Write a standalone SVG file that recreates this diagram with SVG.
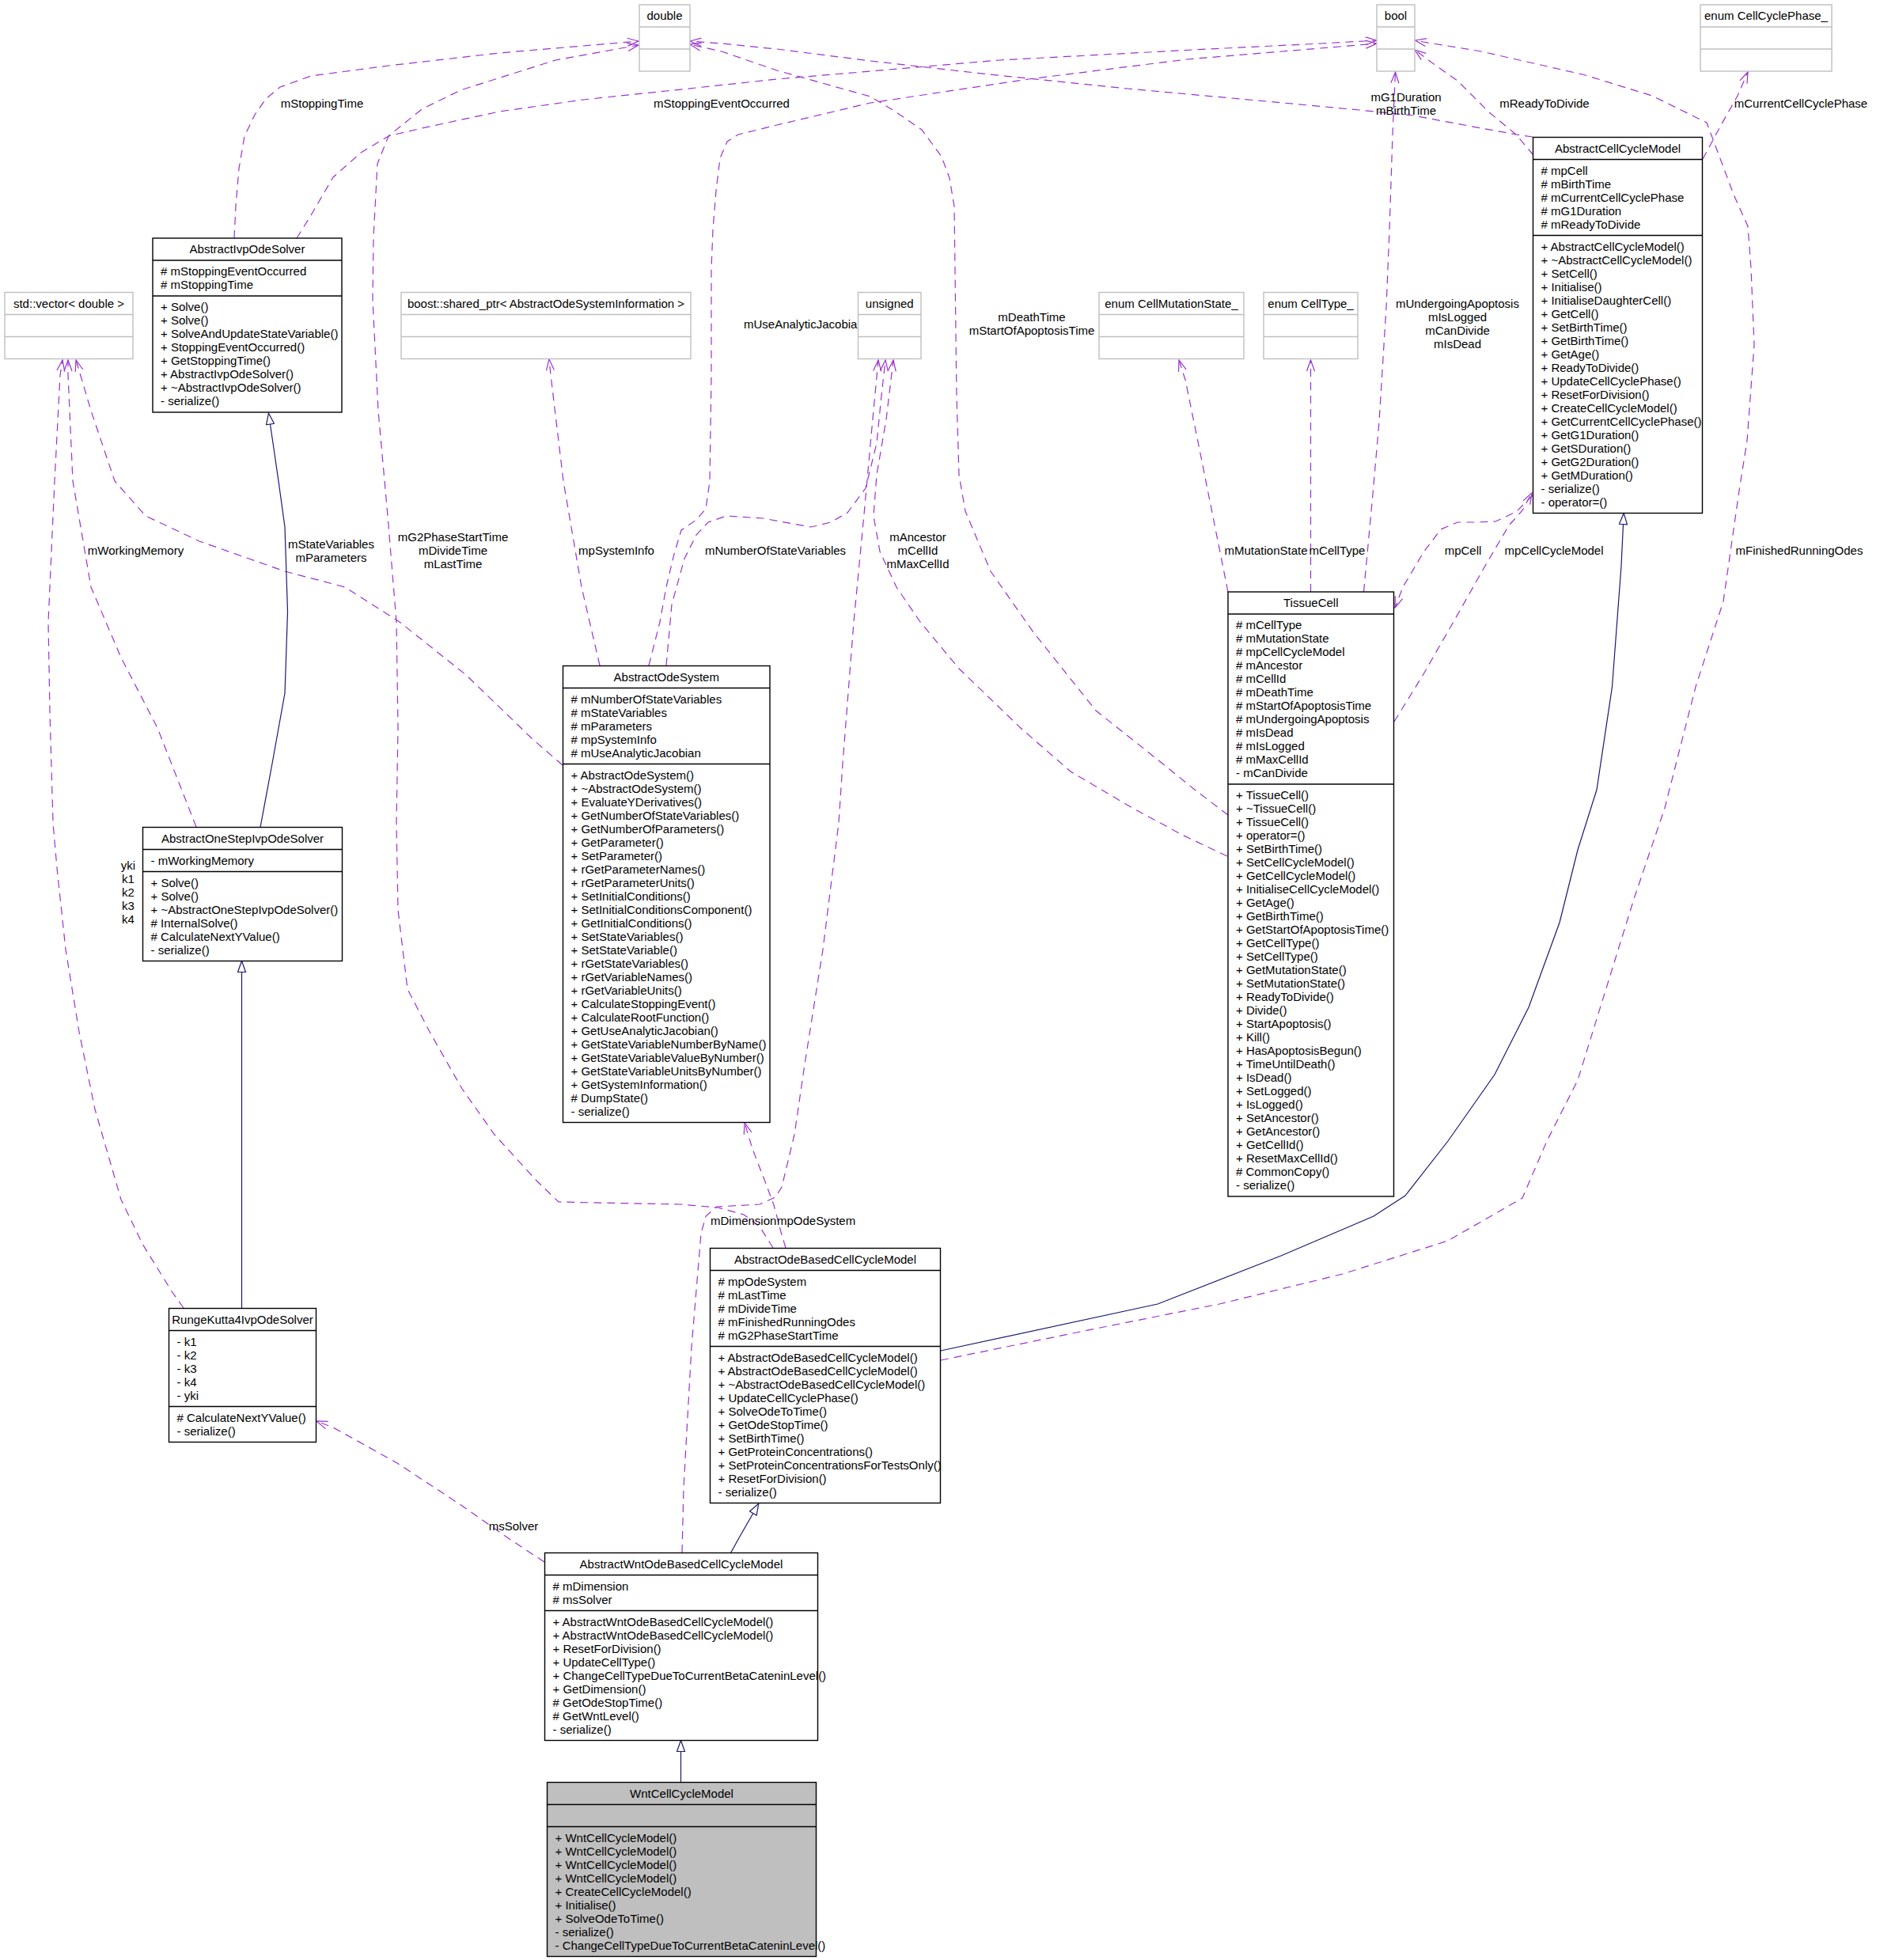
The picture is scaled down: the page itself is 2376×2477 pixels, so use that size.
<svg xmlns="http://www.w3.org/2000/svg" width="2376" height="2477" viewBox="0 0 2376 2477">
<style>
text{font-family:"Liberation Sans",Arial,Helvetica,sans-serif;font-size:15px;fill:#000}
.c{text-anchor:middle}
.box{fill:#fff;stroke:#000;stroke-width:1.4}
.ext{fill:#fff;stroke:#bfbfbf;stroke-width:1.4}
.sel{fill:#bfbfbf;stroke:#000;stroke-width:1.4}
.dv{stroke:#000;stroke-width:1.4}
.dg{stroke:#bfbfbf;stroke-width:1.4}
.use{fill:none;stroke:#9a32cd;stroke-width:1.2;stroke-dasharray:10,7;marker-end:url(#av)}
.inh{fill:none;stroke:#191970;stroke-width:1.2;marker-end:url(#tri)}
</style>
<defs>
<marker id="av" viewBox="-1 -1 16 12" refX="14" refY="5" markerWidth="16" markerHeight="12" markerUnits="userSpaceOnUse" orient="auto"><path d="M0,0 L14,5 L0,10" fill="none" stroke="#9a32cd" stroke-width="1.2"/></marker>
<marker id="tri" viewBox="-1 -1 16 12" refX="0" refY="5" markerWidth="16" markerHeight="12" markerUnits="userSpaceOnUse" orient="auto"><path d="M0,0 L14,5 L0,10 Z" fill="#fff" stroke="#191970" stroke-width="1.2"/></marker>
</defs>
<rect width="2376" height="2477" fill="#fff"/>
<g id="edges">
<path class="use" d="M296,301 L298,260 L302,213 L309,172 L322,145 L336,125 L354,110 L393,96 L491,83 L631,67 L807,52"/>
<path class="use" d="M375,301 L393,272 L421,224 L456,193 L491,172 L533,162 L631,141 L737,126 L842,115 L982,100 L1100,90 L1263,76 L1507,63 L1670,55 L1740,51"/>
<path class="use" d="M820,841 L834,786 L842,742 L852,700 L861,670 L880,657 L892,643 L897,608 L899,474 L899,340 L901,290 L905,241 L910,200 L919,179 L933,170 L982,158 L1100,130 L1300,100 L1500,75 L1740,55"/>
<path class="use" d="M1552,1030 L1510,998 L1463,960 L1385,898 L1306,799 L1252,722 L1220,646 L1212,600 L1209,500 L1208,421 L1206,261 L1200,225 L1190,198 L1165,164 L1130,140 L1100,122 L982,89 L912,65 L872,56"/>
<path class="use" d="M1937,173 L1916,170 L1872,162 L1786,146 L1718,139 L1600,128 L1425,112 L1250,94 L1100,77 L982,62 L912,55 L872,52"/>
<path class="use" d="M1938,196 L1916,170 L1881,141 L1842,102 L1808,78 L1788,63"/>
<path class="use" d="M2152,201 L2174,160 L2196,121 L2209,91"/>
<path class="use" d="M1723.5,748 L1734.5,630 L1743,533 L1752,388 L1756,291 L1760,170 L1763.5,91"/>
<path class="use" d="M1189,1719 L1385,1679 L1541,1648 L1697,1610 L1830,1568 L1924,1514 L1955,1442 L1994,1365 L2065,1136 L2104,1021 L2143,868 L2178,760 L2188,690 L2198,620 L2208,557 L2217,436 L2213,339 L2209,286 L2191.5,247 L2157,155 L2088,121 L2002,94.5 L1872,65 L1799,53 L1788.5,51"/>
<path class="use" d="M1552,748 L1535,663 L1515,563 L1498,480 L1490,455"/>
<path class="use" d="M1656.5,748 L1656.5,455"/>
<path class="use" d="M1762,912 L1799,852 L1838,784 L1877,715 L1907,664 L1924,645 L1936,623"/>
<path class="use" d="M1937,626 L1916,647 L1890,659 L1864,660 L1842,660 L1821,669 L1799,698 L1773,742 L1763,768"/>
<path class="use" d="M1551,1082 L1494,1055 L1431,1021 L1353,975 L1291,921 L1212,845 L1163,786 L1133,742 L1112,697 L1104,652 L1108,600 L1120,530 L1129,455"/>
<path class="use" d="M842,841 L849,764 L865,706 L880,676 L895,660 L918,652 L964,655 L1025,666 L1050,660 L1071,648 L1094,617 L1108,560 L1114,500 L1119,455"/>
<path class="use" d="M758,841 L735,742 L712,608 L696,474 L694,454"/>
<path class="use" d="M711,967 L673,934 L589,853 L505,786 L436,742 L360,722 L252,684 L184,652 L145,608 L115,519 L96,455"/>
<path class="use" d="M248,1045 L199,920 L153,831 L115,742 L92,608 L86,474 L86,455"/>
<path class="use" d="M232,1653 L217,1632 L180,1572 L153,1516 L120,1402 L100,1304 L83,1200 L72,1097 L67,1040 L63,900 L61,786 L69,608 L76,474 L79,455"/>
<path class="use" d="M977,1577 L960,1550 L940,1535 L907,1526 L860,1522 L706,1519 L678,1492 L625,1434 L584,1376 L543,1304 L515,1250 L503,1150 L501,1040 L503,920 L501,786 L490,652 L478,519 L471,379 L472,300 L477,207 L491,172 L533,138 L582,114 L702,76 L807,57"/>
<path class="use" d="M993,1577 L987,1557 L978,1523 L968,1496 L951,1452 L941,1419"/>
<path class="use" d="M862,1962 L864,1880 L874,1702 L886,1559 L892,1537 L906,1525 L960,1522 L980,1513 L988,1500 L1004,1434 L1017,1345 L1040,1200 L1060,1040 L1065,965 L1079,786 L1092,650 L1102,540 L1110,455"/>
<path class="use" d="M688,1974 L641,1943 L584,1903 L502,1849 L421,1804 L400,1796"/>
<path class="inh" d="M329,1045.5 L344,965 L360,876 L363.5,773 L360,666 L352,608 L341.5,536"/>
<path class="inh" d="M305.5,1653.5 L305.5,1228.5"/>
<path class="inh" d="M1189,1707 L1463,1648 L1619,1587 L1736,1537 L1776,1511 L1830,1442 L1889,1358 L1932,1273 L1971,1166 L1994,1074 L2018,998 L2037.5,868 L2049,715 L2051.5,662.5"/>
<path class="inh" d="M923.5,1962.5 L936,1940 L951.8,1912.5"/>
<path class="inh" d="M860.5,2252.5 L860.5,2213.5"/>
<text class="c" x="407" y="136">mStoppingTime</text>
<text class="c" x="912" y="136">mStoppingEventOccurred</text>
<text x="940" y="415">mUseAnalyticJacobian</text>
<text class="c" x="1777" y="128">mG1Duration</text>
<text class="c" x="1777" y="145">mBirthTime</text>
<text class="c" x="1952" y="136">mReadyToDivide</text>
<text class="c" x="2276" y="136">mCurrentCellCyclePhase</text>
<text class="c" x="1304" y="405.5">mDeathTime</text>
<text class="c" x="1304" y="422.5">mStartOfApoptosisTime</text>
<text class="c" x="1842" y="389">mUndergoingApoptosis</text>
<text class="c" x="1842" y="406">mIsLogged</text>
<text class="c" x="1842" y="423">mCanDivide</text>
<text class="c" x="1842" y="440">mIsDead</text>
<text class="c" x="1600" y="701">mMutationState</text>
<text class="c" x="1690" y="701">mCellType</text>
<text class="c" x="1849" y="701">mpCell</text>
<text class="c" x="1964" y="701">mpCellCycleModel</text>
<text class="c" x="2274" y="701">mFinishedRunningOdes</text>
<text class="c" x="171.5" y="701">mWorkingMemory</text>
<text class="c" x="418.5" y="692.5">mStateVariables</text>
<text class="c" x="418.5" y="710">mParameters</text>
<text class="c" x="572.5" y="684">mG2PhaseStartTime</text>
<text class="c" x="572.5" y="701">mDivideTime</text>
<text class="c" x="572.5" y="718">mLastTime</text>
<text class="c" x="779" y="701">mpSystemInfo</text>
<text class="c" x="980" y="701">mNumberOfStateVariables</text>
<text class="c" x="1160" y="684">mAncestor</text>
<text class="c" x="1160" y="701">mCellId</text>
<text class="c" x="1160" y="718">mMaxCellId</text>
<text class="c" x="162" y="1099">yki</text>
<text class="c" x="162" y="1116">k1</text>
<text class="c" x="162" y="1133">k2</text>
<text class="c" x="162" y="1150">k3</text>
<text class="c" x="162" y="1167">k4</text>
<text x="898" y="1547.5">mDimension</text>
<text x="982" y="1547.5">mpOdeSystem</text>
<text class="c" x="649" y="1934">msSolver</text>
</g>
<g id="n_double"><rect class="ext" x="808" y="6" width="64" height="84"/><line class="dg" x1="808" y1="34" x2="872" y2="34"/><line class="dg" x1="808" y1="62" x2="872" y2="62"/><text class="c" x="840" y="25">double</text></g>
<g id="n_bool"><rect class="ext" x="1740" y="6" width="48" height="84"/><line class="dg" x1="1740" y1="34" x2="1788" y2="34"/><line class="dg" x1="1740" y1="62" x2="1788" y2="62"/><text class="c" x="1764" y="25">bool</text></g>
<g id="n_cellcyclephase"><rect class="ext" x="2149" y="6" width="166" height="84"/><line class="dg" x1="2149" y1="34" x2="2315" y2="34"/><line class="dg" x1="2149" y1="62" x2="2315" y2="62"/><text class="c" x="2232" y="25">enum CellCyclePhase_</text></g>
<g id="n_vector"><rect class="ext" x="6" y="369.5" width="162" height="84"/><line class="dg" x1="6" y1="397.5" x2="168" y2="397.5"/><line class="dg" x1="6" y1="425.5" x2="168" y2="425.5"/><text class="c" x="87" y="388.5">std::vector&lt; double &gt;</text></g>
<g id="n_boost"><rect class="ext" x="507" y="369.5" width="366" height="84"/><line class="dg" x1="507" y1="397.5" x2="873" y2="397.5"/><line class="dg" x1="507" y1="425.5" x2="873" y2="425.5"/><text class="c" x="690" y="388.5">boost::shared_ptr&lt; AbstractOdeSystemInformation &gt;</text></g>
<g id="n_unsigned"><rect class="ext" x="1084.5" y="369.5" width="79.5" height="84"/><line class="dg" x1="1084.5" y1="397.5" x2="1164" y2="397.5"/><line class="dg" x1="1084.5" y1="425.5" x2="1164" y2="425.5"/><text class="c" x="1124.25" y="388.5">unsigned</text></g>
<g id="n_mutation"><rect class="ext" x="1389" y="369.5" width="183" height="84"/><line class="dg" x1="1389" y1="397.5" x2="1572" y2="397.5"/><line class="dg" x1="1389" y1="425.5" x2="1572" y2="425.5"/><text class="c" x="1480.5" y="388.5">enum CellMutationState_</text></g>
<g id="n_celltype"><rect class="ext" x="1597" y="369.5" width="119" height="84"/><line class="dg" x1="1597" y1="397.5" x2="1716" y2="397.5"/><line class="dg" x1="1597" y1="425.5" x2="1716" y2="425.5"/><text class="c" x="1656.5" y="388.5">enum CellType_</text></g>
<g id="n_AbstractIvpOdeSolver"><rect class="box" x="193" y="301" width="239" height="220"/><line class="dv" x1="193" y1="329" x2="432" y2="329"/><line class="dv" x1="193" y1="374" x2="432" y2="374"/><text class="c" x="312.5" y="320">AbstractIvpOdeSolver</text>
<text x="203" y="348"><tspan x="203">#  mStoppingEventOccurred</tspan><tspan x="203" dy="17">#  mStoppingTime</tspan></text>
<text x="203" y="393"><tspan x="203">+  Solve()</tspan><tspan x="203" dy="17">+  Solve()</tspan><tspan x="203" dy="17">+  SolveAndUpdateStateVariable()</tspan><tspan x="203" dy="17">+  StoppingEventOccurred()</tspan><tspan x="203" dy="17">+  GetStoppingTime()</tspan><tspan x="203" dy="17">+  AbstractIvpOdeSolver()</tspan><tspan x="203" dy="17">+  ~AbstractIvpOdeSolver()</tspan><tspan x="203" dy="17">- serialize()</tspan></text></g>
<g id="n_AbstractCellCycleModel"><rect class="box" x="1937.5" y="173.5" width="214" height="475"/><line class="dv" x1="1937.5" y1="201.5" x2="2151.5" y2="201.5"/><line class="dv" x1="1937.5" y1="297.5" x2="2151.5" y2="297.5"/><text class="c" x="2044.5" y="192.5">AbstractCellCycleModel</text>
<text x="1947.5" y="220.5"><tspan x="1947.5"># mpCell</tspan><tspan x="1947.5" dy="17"># mBirthTime</tspan><tspan x="1947.5" dy="17"># mCurrentCellCyclePhase</tspan><tspan x="1947.5" dy="17"># mG1Duration</tspan><tspan x="1947.5" dy="17"># mReadyToDivide</tspan></text>
<text x="1947.5" y="316.5"><tspan x="1947.5">+ AbstractCellCycleModel()</tspan><tspan x="1947.5" dy="17">+ ~AbstractCellCycleModel()</tspan><tspan x="1947.5" dy="17">+ SetCell()</tspan><tspan x="1947.5" dy="17">+ Initialise()</tspan><tspan x="1947.5" dy="17">+ InitialiseDaughterCell()</tspan><tspan x="1947.5" dy="17">+ GetCell()</tspan><tspan x="1947.5" dy="17">+ SetBirthTime()</tspan><tspan x="1947.5" dy="17">+ GetBirthTime()</tspan><tspan x="1947.5" dy="17">+ GetAge()</tspan><tspan x="1947.5" dy="17">+ ReadyToDivide()</tspan><tspan x="1947.5" dy="17">+ UpdateCellCyclePhase()</tspan><tspan x="1947.5" dy="17">+ ResetForDivision()</tspan><tspan x="1947.5" dy="17">+ CreateCellCycleModel()</tspan><tspan x="1947.5" dy="17">+ GetCurrentCellCyclePhase()</tspan><tspan x="1947.5" dy="17">+ GetG1Duration()</tspan><tspan x="1947.5" dy="17">+ GetSDuration()</tspan><tspan x="1947.5" dy="17">+ GetG2Duration()</tspan><tspan x="1947.5" dy="17">+ GetMDuration()</tspan><tspan x="1947.5" dy="17">- serialize()</tspan><tspan x="1947.5" dy="17">- operator=()</tspan></text></g>
<g id="n_TissueCell"><rect class="box" x="1552" y="748" width="209.5" height="764"/><line class="dv" x1="1552" y1="776" x2="1761.5" y2="776"/><line class="dv" x1="1552" y1="991" x2="1761.5" y2="991"/><text class="c" x="1656.75" y="767">TissueCell</text>
<text x="1562" y="795"><tspan x="1562"># mCellType</tspan><tspan x="1562" dy="17"># mMutationState</tspan><tspan x="1562" dy="17"># mpCellCycleModel</tspan><tspan x="1562" dy="17"># mAncestor</tspan><tspan x="1562" dy="17"># mCellId</tspan><tspan x="1562" dy="17"># mDeathTime</tspan><tspan x="1562" dy="17"># mStartOfApoptosisTime</tspan><tspan x="1562" dy="17"># mUndergoingApoptosis</tspan><tspan x="1562" dy="17"># mIsDead</tspan><tspan x="1562" dy="17"># mIsLogged</tspan><tspan x="1562" dy="17"># mMaxCellId</tspan><tspan x="1562" dy="17">- mCanDivide</tspan></text>
<text x="1562" y="1010"><tspan x="1562">+ TissueCell()</tspan><tspan x="1562" dy="17">+ ~TissueCell()</tspan><tspan x="1562" dy="17">+ TissueCell()</tspan><tspan x="1562" dy="17">+ operator=()</tspan><tspan x="1562" dy="17">+ SetBirthTime()</tspan><tspan x="1562" dy="17">+ SetCellCycleModel()</tspan><tspan x="1562" dy="17">+ GetCellCycleModel()</tspan><tspan x="1562" dy="17">+ InitialiseCellCycleModel()</tspan><tspan x="1562" dy="17">+ GetAge()</tspan><tspan x="1562" dy="17">+ GetBirthTime()</tspan><tspan x="1562" dy="17">+ GetStartOfApoptosisTime()</tspan><tspan x="1562" dy="17">+ GetCellType()</tspan><tspan x="1562" dy="17">+ SetCellType()</tspan><tspan x="1562" dy="17">+ GetMutationState()</tspan><tspan x="1562" dy="17">+ SetMutationState()</tspan><tspan x="1562" dy="17">+ ReadyToDivide()</tspan><tspan x="1562" dy="17">+ Divide()</tspan><tspan x="1562" dy="17">+ StartApoptosis()</tspan><tspan x="1562" dy="17">+ Kill()</tspan><tspan x="1562" dy="17">+ HasApoptosisBegun()</tspan><tspan x="1562" dy="17">+ TimeUntilDeath()</tspan><tspan x="1562" dy="17">+ IsDead()</tspan><tspan x="1562" dy="17">+ SetLogged()</tspan><tspan x="1562" dy="17">+ IsLogged()</tspan><tspan x="1562" dy="17">+ SetAncestor()</tspan><tspan x="1562" dy="17">+ GetAncestor()</tspan><tspan x="1562" dy="17">+ GetCellId()</tspan><tspan x="1562" dy="17">+ ResetMaxCellId()</tspan><tspan x="1562" dy="17"># CommonCopy()</tspan><tspan x="1562" dy="17">- serialize()</tspan></text></g>
<g id="n_AbstractOdeSystem"><rect class="box" x="711.5" y="841.5" width="261.5" height="577"/><line class="dv" x1="711.5" y1="869.5" x2="973" y2="869.5"/><line class="dv" x1="711.5" y1="965.5" x2="973" y2="965.5"/><text class="c" x="842.25" y="860.5">AbstractOdeSystem</text>
<text x="721.5" y="888.5"><tspan x="721.5"># mNumberOfStateVariables</tspan><tspan x="721.5" dy="17"># mStateVariables</tspan><tspan x="721.5" dy="17"># mParameters</tspan><tspan x="721.5" dy="17"># mpSystemInfo</tspan><tspan x="721.5" dy="17"># mUseAnalyticJacobian</tspan></text>
<text x="721.5" y="984.5"><tspan x="721.5">+ AbstractOdeSystem()</tspan><tspan x="721.5" dy="17">+ ~AbstractOdeSystem()</tspan><tspan x="721.5" dy="17">+ EvaluateYDerivatives()</tspan><tspan x="721.5" dy="17">+ GetNumberOfStateVariables()</tspan><tspan x="721.5" dy="17">+ GetNumberOfParameters()</tspan><tspan x="721.5" dy="17">+ GetParameter()</tspan><tspan x="721.5" dy="17">+ SetParameter()</tspan><tspan x="721.5" dy="17">+ rGetParameterNames()</tspan><tspan x="721.5" dy="17">+ rGetParameterUnits()</tspan><tspan x="721.5" dy="17">+ SetInitialConditions()</tspan><tspan x="721.5" dy="17">+ SetInitialConditionsComponent()</tspan><tspan x="721.5" dy="17">+ GetInitialConditions()</tspan><tspan x="721.5" dy="17">+ SetStateVariables()</tspan><tspan x="721.5" dy="17">+ SetStateVariable()</tspan><tspan x="721.5" dy="17">+ rGetStateVariables()</tspan><tspan x="721.5" dy="17">+ rGetVariableNames()</tspan><tspan x="721.5" dy="17">+ rGetVariableUnits()</tspan><tspan x="721.5" dy="17">+ CalculateStoppingEvent()</tspan><tspan x="721.5" dy="17">+ CalculateRootFunction()</tspan><tspan x="721.5" dy="17">+ GetUseAnalyticJacobian()</tspan><tspan x="721.5" dy="17">+ GetStateVariableNumberByName()</tspan><tspan x="721.5" dy="17">+ GetStateVariableValueByNumber()</tspan><tspan x="721.5" dy="17">+ GetStateVariableUnitsByNumber()</tspan><tspan x="721.5" dy="17">+ GetSystemInformation()</tspan><tspan x="721.5" dy="17"># DumpState()</tspan><tspan x="721.5" dy="17">- serialize()</tspan></text></g>
<g id="n_AbstractOneStepIvpOdeSolver"><rect class="box" x="180.5" y="1045.5" width="252" height="169"/><line class="dv" x1="180.5" y1="1073.5" x2="432.5" y2="1073.5"/><line class="dv" x1="180.5" y1="1101.5" x2="432.5" y2="1101.5"/><text class="c" x="306.5" y="1064.5">AbstractOneStepIvpOdeSolver</text>
<text x="190.5" y="1092.5">- mWorkingMemory</text>
<text x="190.5" y="1120.5"><tspan x="190.5">+ Solve()</tspan><tspan x="190.5" dy="17">+ Solve()</tspan><tspan x="190.5" dy="17">+ ~AbstractOneStepIvpOdeSolver()</tspan><tspan x="190.5" dy="17"># InternalSolve()</tspan><tspan x="190.5" dy="17"># CalculateNextYValue()</tspan><tspan x="190.5" dy="17">- serialize()</tspan></text></g>
<g id="n_RungeKutta4IvpOdeSolver"><rect class="box" x="213.5" y="1653.5" width="186" height="169"/><line class="dv" x1="213.5" y1="1681.5" x2="399.5" y2="1681.5"/><line class="dv" x1="213.5" y1="1777.5" x2="399.5" y2="1777.5"/><text class="c" x="306.5" y="1672.5">RungeKutta4IvpOdeSolver</text>
<text x="223.5" y="1700.5"><tspan x="223.5">- k1</tspan><tspan x="223.5" dy="17">- k2</tspan><tspan x="223.5" dy="17">- k3</tspan><tspan x="223.5" dy="17">- k4</tspan><tspan x="223.5" dy="17">- yki</tspan></text>
<text x="223.5" y="1796.5"><tspan x="223.5"># CalculateNextYValue()</tspan><tspan x="223.5" dy="17">- serialize()</tspan></text></g>
<g id="n_AbstractOdeBasedCellCycleModel"><rect class="box" x="897.5" y="1577.5" width="291" height="322"/><line class="dv" x1="897.5" y1="1605.5" x2="1188.5" y2="1605.5"/><line class="dv" x1="897.5" y1="1701.5" x2="1188.5" y2="1701.5"/><text class="c" x="1043" y="1596.5">AbstractOdeBasedCellCycleModel</text>
<text x="907.5" y="1624.5"><tspan x="907.5"># mpOdeSystem</tspan><tspan x="907.5" dy="17"># mLastTime</tspan><tspan x="907.5" dy="17"># mDivideTime</tspan><tspan x="907.5" dy="17"># mFinishedRunningOdes</tspan><tspan x="907.5" dy="17"># mG2PhaseStartTime</tspan></text>
<text x="907.5" y="1720.5"><tspan x="907.5">+ AbstractOdeBasedCellCycleModel()</tspan><tspan x="907.5" dy="17">+ AbstractOdeBasedCellCycleModel()</tspan><tspan x="907.5" dy="17">+ ~AbstractOdeBasedCellCycleModel()</tspan><tspan x="907.5" dy="17">+ UpdateCellCyclePhase()</tspan><tspan x="907.5" dy="17">+ SolveOdeToTime()</tspan><tspan x="907.5" dy="17">+ GetOdeStopTime()</tspan><tspan x="907.5" dy="17">+ SetBirthTime()</tspan><tspan x="907.5" dy="17">+ GetProteinConcentrations()</tspan><tspan x="907.5" dy="17">+ SetProteinConcentrationsForTestsOnly()</tspan><tspan x="907.5" dy="17">+ ResetForDivision()</tspan><tspan x="907.5" dy="17">- serialize()</tspan></text></g>
<g id="n_AbstractWntOdeBasedCellCycleModel"><rect class="box" x="688.5" y="1962.5" width="345" height="237"/><line class="dv" x1="688.5" y1="1990.5" x2="1033.5" y2="1990.5"/><line class="dv" x1="688.5" y1="2035.5" x2="1033.5" y2="2035.5"/><text class="c" x="861" y="1981.5">AbstractWntOdeBasedCellCycleModel</text>
<text x="698.5" y="2009.5"><tspan x="698.5"># mDimension</tspan><tspan x="698.5" dy="17"># msSolver</tspan></text>
<text x="698.5" y="2054.5"><tspan x="698.5">+ AbstractWntOdeBasedCellCycleModel()</tspan><tspan x="698.5" dy="17">+ AbstractWntOdeBasedCellCycleModel()</tspan><tspan x="698.5" dy="17">+ ResetForDivision()</tspan><tspan x="698.5" dy="17">+ UpdateCellType()</tspan><tspan x="698.5" dy="17">+ ChangeCellTypeDueToCurrentBetaCateninLevel()</tspan><tspan x="698.5" dy="17">+ GetDimension()</tspan><tspan x="698.5" dy="17"># GetOdeStopTime()</tspan><tspan x="698.5" dy="17"># GetWntLevel()</tspan><tspan x="698.5" dy="17">- serialize()</tspan></text></g>
<g id="n_WntCellCycleModel"><rect class="sel" x="691.5" y="2252.5" width="340" height="220"/><line class="dv" x1="691.5" y1="2280.5" x2="1031.5" y2="2280.5"/><line class="dv" x1="691.5" y1="2308.5" x2="1031.5" y2="2308.5"/><text class="c" x="861.5" y="2271.5">WntCellCycleModel</text>
<text x="701.5" y="2327.5"><tspan x="701.5">+ WntCellCycleModel()</tspan><tspan x="701.5" dy="17">+ WntCellCycleModel()</tspan><tspan x="701.5" dy="17">+ WntCellCycleModel()</tspan><tspan x="701.5" dy="17">+ WntCellCycleModel()</tspan><tspan x="701.5" dy="17">+ CreateCellCycleModel()</tspan><tspan x="701.5" dy="17">+ Initialise()</tspan><tspan x="701.5" dy="17">+ SolveOdeToTime()</tspan><tspan x="701.5" dy="17">- serialize()</tspan><tspan x="701.5" dy="17">- ChangeCellTypeDueToCurrentBetaCateninLevel()</tspan></text></g>
</svg>
